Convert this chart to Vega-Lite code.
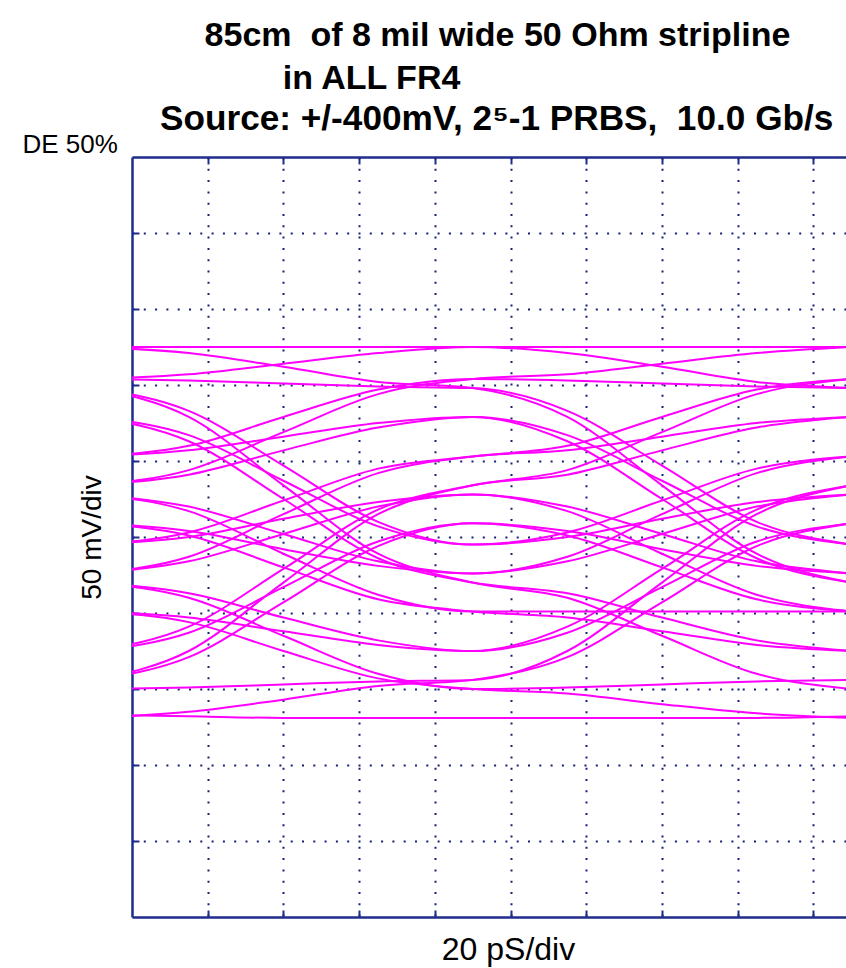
{
  "$schema": "https://vega.github.io/schema/vega-lite/v6.json",
  "width": 714,
  "height": 760,
  "autosize": {"type": "none"},
  "padding": {"left": 132, "top": 157, "right": 0, "bottom": 51},
  "background": "white",
  "config": {"view": {"stroke": null}, "font": "Liberation Sans"},
  "title": {
    "text": ["\u200b\u00a0\u00a0\u00a0\u00a0\u200985cm\u00a0 of 8 mil wide 50 Ohm stripline", "\u200b\u00a0\u00a0\u00a0\u00a0\u00a0\u00a0\u00a0\u00a0\u00a0\u00a0\u00a0\u00a0\u00a0in ALL FR4"],
    "subtitle": "Source: +/-400mV, 2\u2075-1 PRBS,\u00a0 10.0 Gb/s",
    "anchor": "start",
    "frame": "group",
    "dx": 28,
    "offset": -6,
    "font": "Liberation Sans",
    "fontSize": 34,
    "fontWeight": "bold",
    "color": "#000000",
    "lineHeight": 43,
    "subtitleFont": "Liberation Sans",
    "subtitleFontSize": 35.2,
    "subtitleFontWeight": "bold",
    "subtitleColor": "#000000",
    "subtitlePadding": 6
  },
  "data": {"values": [
    {"k":0,"t":-10,"v":-49},{"k":0,"t":15,"v":-56},{"k":0,"t":40,"v":-75},{"k":0,"t":65,"v":-93},{"k":0,"t":90,"v":-100},{"k":0,"t":115,"v":-103},{"k":0,"t":140,"v":-110},{"k":0,"t":165,"v":-116},{"k":0,"t":190,"v":-119},
    {"k":1,"t":-10,"v":-117},{"k":1,"t":15,"v":-118},{"k":1,"t":40,"v":-119},{"k":1,"t":65,"v":-119},{"k":1,"t":90,"v":-119},{"k":1,"t":115,"v":-119},{"k":1,"t":140,"v":-119},{"k":1,"t":165,"v":-119},{"k":1,"t":190,"v":-118},
    {"k":2,"t":-10,"v":-119},{"k":2,"t":15,"v":-115},{"k":2,"t":40,"v":-107},{"k":2,"t":65,"v":-98},{"k":2,"t":90,"v":-94},{"k":2,"t":115,"v":-79},{"k":2,"t":140,"v":-43},{"k":2,"t":165,"v":-6},{"k":2,"t":190,"v":9},
    {"k":3,"t":-10,"v":-94},{"k":3,"t":15,"v":-79},{"k":3,"t":40,"v":-43},{"k":3,"t":65,"v":-6},{"k":3,"t":90,"v":9},{"k":3,"t":115,"v":1},{"k":3,"t":140,"v":-20},{"k":3,"t":165,"v":-41},{"k":3,"t":190,"v":-49},
    {"k":4,"t":-10,"v":9},{"k":4,"t":15,"v":1},{"k":4,"t":40,"v":-20},{"k":4,"t":65,"v":-41},{"k":4,"t":90,"v":-49},{"k":4,"t":115,"v":-53},{"k":4,"t":140,"v":-62},{"k":4,"t":165,"v":-71},{"k":4,"t":190,"v":-75},
    {"k":5,"t":-10,"v":-49},{"k":5,"t":15,"v":-53},{"k":5,"t":40,"v":-62},{"k":5,"t":65,"v":-71},{"k":5,"t":90,"v":-75},{"k":5,"t":115,"v":-63},{"k":5,"t":140,"v":-33},{"k":5,"t":165,"v":-3},{"k":5,"t":190,"v":9},
    {"k":6,"t":-10,"v":-75},{"k":6,"t":15,"v":-63},{"k":6,"t":40,"v":-33},{"k":6,"t":65,"v":-3},{"k":6,"t":90,"v":9},{"k":6,"t":115,"v":4},{"k":6,"t":140,"v":-8},{"k":6,"t":165,"v":-19},{"k":6,"t":190,"v":-24},
    {"k":7,"t":-10,"v":9},{"k":7,"t":15,"v":4},{"k":7,"t":40,"v":-8},{"k":7,"t":65,"v":-19},{"k":7,"t":90,"v":-24},{"k":7,"t":115,"v":-13},{"k":7,"t":140,"v":15},{"k":7,"t":165,"v":42},{"k":7,"t":190,"v":53},
    {"k":8,"t":-10,"v":-24},{"k":8,"t":15,"v":-13},{"k":8,"t":40,"v":15},{"k":8,"t":65,"v":42},{"k":8,"t":90,"v":53},{"k":8,"t":115,"v":57},{"k":8,"t":140,"v":66},{"k":8,"t":165,"v":75},{"k":8,"t":190,"v":79},
    {"k":9,"t":-10,"v":53},{"k":9,"t":15,"v":57},{"k":9,"t":40,"v":66},{"k":9,"t":65,"v":75},{"k":9,"t":90,"v":79},{"k":9,"t":115,"v":63},{"k":9,"t":140,"v":25},{"k":9,"t":165,"v":-14},{"k":9,"t":190,"v":-30},
    {"k":10,"t":-10,"v":79},{"k":10,"t":15,"v":63},{"k":10,"t":40,"v":25},{"k":10,"t":65,"v":-14},{"k":10,"t":90,"v":-30},{"k":10,"t":115,"v":-37},{"k":10,"t":140,"v":-53},{"k":10,"t":165,"v":-68},{"k":10,"t":190,"v":-75},
    {"k":11,"t":-10,"v":-30},{"k":11,"t":15,"v":-37},{"k":11,"t":40,"v":-53},{"k":11,"t":65,"v":-68},{"k":11,"t":90,"v":-75},{"k":11,"t":115,"v":-59},{"k":11,"t":140,"v":-21},{"k":11,"t":165,"v":18},{"k":11,"t":190,"v":34},
    {"k":12,"t":-10,"v":-75},{"k":12,"t":15,"v":-59},{"k":12,"t":40,"v":-21},{"k":12,"t":65,"v":18},{"k":12,"t":90,"v":34},{"k":12,"t":115,"v":44},{"k":12,"t":140,"v":69},{"k":12,"t":165,"v":94},{"k":12,"t":190,"v":104},
    {"k":13,"t":-10,"v":34},{"k":13,"t":15,"v":44},{"k":13,"t":40,"v":69},{"k":13,"t":65,"v":94},{"k":13,"t":90,"v":104},{"k":13,"t":115,"v":107},{"k":13,"t":140,"v":114},{"k":13,"t":165,"v":121},{"k":13,"t":190,"v":125},
    {"k":14,"t":-10,"v":104},{"k":14,"t":15,"v":107},{"k":14,"t":40,"v":114},{"k":14,"t":65,"v":121},{"k":14,"t":90,"v":125},{"k":14,"t":115,"v":125},{"k":14,"t":140,"v":125},{"k":14,"t":165,"v":125},{"k":14,"t":190,"v":125},
    {"k":15,"t":-10,"v":125},{"k":15,"t":15,"v":125},{"k":15,"t":40,"v":125},{"k":15,"t":65,"v":125},{"k":15,"t":90,"v":125},{"k":15,"t":115,"v":121},{"k":15,"t":140,"v":112},{"k":15,"t":165,"v":102},{"k":15,"t":190,"v":98},
    {"k":16,"t":-10,"v":125},{"k":16,"t":15,"v":121},{"k":16,"t":40,"v":112},{"k":16,"t":65,"v":102},{"k":16,"t":90,"v":98},{"k":16,"t":115,"v":79},{"k":16,"t":140,"v":34},{"k":16,"t":165,"v":-11},{"k":16,"t":190,"v":-30},
    {"k":17,"t":-10,"v":98},{"k":17,"t":15,"v":79},{"k":17,"t":40,"v":34},{"k":17,"t":65,"v":-11},{"k":17,"t":90,"v":-30},{"k":17,"t":115,"v":-40},{"k":17,"t":140,"v":-65},{"k":17,"t":165,"v":-90},{"k":17,"t":190,"v":-100},
    {"k":18,"t":-10,"v":-30},{"k":18,"t":15,"v":-40},{"k":18,"t":40,"v":-65},{"k":18,"t":65,"v":-90},{"k":18,"t":90,"v":-100},{"k":18,"t":115,"v":-99},{"k":18,"t":140,"v":-97},{"k":18,"t":165,"v":-95},{"k":18,"t":190,"v":-94},
    {"k":19,"t":-10,"v":-100},{"k":19,"t":15,"v":-99},{"k":19,"t":40,"v":-97},{"k":19,"t":65,"v":-95},{"k":19,"t":90,"v":-94},{"k":19,"t":115,"v":-75},{"k":19,"t":140,"v":-30},{"k":19,"t":165,"v":15},{"k":19,"t":190,"v":34},
    {"k":20,"t":-10,"v":-94},{"k":20,"t":15,"v":-75},{"k":20,"t":40,"v":-30},{"k":20,"t":65,"v":15},{"k":20,"t":90,"v":34},{"k":20,"t":115,"v":41},{"k":20,"t":140,"v":57},{"k":20,"t":165,"v":72},{"k":20,"t":190,"v":79},
    {"k":21,"t":-10,"v":34},{"k":21,"t":15,"v":41},{"k":21,"t":40,"v":57},{"k":21,"t":65,"v":72},{"k":21,"t":90,"v":79},{"k":21,"t":115,"v":67},{"k":21,"t":140,"v":37},{"k":21,"t":165,"v":7},{"k":21,"t":190,"v":-5},
    {"k":22,"t":-10,"v":79},{"k":22,"t":15,"v":67},{"k":22,"t":40,"v":37},{"k":22,"t":65,"v":7},{"k":22,"t":90,"v":-5},{"k":22,"t":115,"v":3},{"k":22,"t":140,"v":24},{"k":22,"t":165,"v":45},{"k":22,"t":190,"v":53},
    {"k":23,"t":-10,"v":-5},{"k":23,"t":15,"v":3},{"k":23,"t":40,"v":24},{"k":23,"t":65,"v":45},{"k":23,"t":90,"v":53},{"k":23,"t":115,"v":60},{"k":23,"t":140,"v":79},{"k":23,"t":165,"v":97},{"k":23,"t":190,"v":104},
    {"k":24,"t":-10,"v":53},{"k":24,"t":15,"v":60},{"k":24,"t":40,"v":79},{"k":24,"t":65,"v":97},{"k":24,"t":90,"v":104},{"k":24,"t":115,"v":103},{"k":24,"t":140,"v":101},{"k":24,"t":165,"v":99},{"k":24,"t":190,"v":98},
    {"k":25,"t":-10,"v":104},{"k":25,"t":15,"v":103},{"k":25,"t":40,"v":101},{"k":25,"t":65,"v":99},{"k":25,"t":90,"v":98},{"k":25,"t":115,"v":83},{"k":25,"t":140,"v":47},{"k":25,"t":165,"v":10},{"k":25,"t":190,"v":-5},
    {"k":26,"t":-10,"v":98},{"k":26,"t":15,"v":83},{"k":26,"t":40,"v":47},{"k":26,"t":65,"v":10},{"k":26,"t":90,"v":-5},{"k":26,"t":115,"v":0},{"k":26,"t":140,"v":12},{"k":26,"t":165,"v":23},{"k":26,"t":190,"v":28},
    {"k":27,"t":-10,"v":-5},{"k":27,"t":15,"v":0},{"k":27,"t":40,"v":12},{"k":27,"t":65,"v":23},{"k":27,"t":90,"v":28},{"k":27,"t":115,"v":20},{"k":27,"t":140,"v":2},{"k":27,"t":165,"v":-16},{"k":27,"t":190,"v":-24},
    {"k":28,"t":-10,"v":28},{"k":28,"t":15,"v":20},{"k":28,"t":40,"v":2},{"k":28,"t":65,"v":-16},{"k":28,"t":90,"v":-24},{"k":28,"t":115,"v":-16},{"k":28,"t":140,"v":2},{"k":28,"t":165,"v":20},{"k":28,"t":190,"v":28},
    {"k":29,"t":-10,"v":-24},{"k":29,"t":15,"v":-16},{"k":29,"t":40,"v":2},{"k":29,"t":65,"v":20},{"k":29,"t":90,"v":28},{"k":29,"t":115,"v":17},{"k":29,"t":140,"v":-11},{"k":29,"t":165,"v":-38},{"k":29,"t":190,"v":-49},
    {"k":30,"t":-10,"v":28},{"k":30,"t":15,"v":17},{"k":30,"t":40,"v":-11},{"k":30,"t":65,"v":-38},{"k":30,"t":90,"v":-49},{"k":30,"t":115,"v":-49},{"k":30,"t":140,"v":-49},{"k":30,"t":165,"v":-49},{"k":30,"t":190,"v":-49}
  ]},
  "layer": [
    {
      "mark": {"type": "line", "interpolate": "monotone", "clip": true, "strokeWidth": 2, "color": "#ff00ff"},
      "encoding": {
        "x": {
          "field": "t", "type": "quantitative",
          "scale": {"domain": [0, 188.6], "nice": false, "zero": false},
          "axis": {
            "orient": "bottom",
            "values": [20, 40, 60, 80, 100, 120, 140, 160, 180],
            "labels": false,
            "ticks": true, "tickSize": -7, "tickWidth": 2, "tickColor": "#1f2c8c",
            "domain": true, "domainWidth": 2.5, "domainColor": "#1f2c8c",
            "grid": true, "gridColor": "#14207a", "gridDash": [2, 9.3], "gridWidth": 2, "gridOpacity": 1,
            "title": "20 pS/div",
            "titleFont": "Liberation Sans", "titleFontSize": 32, "titleFontWeight": "normal", "titleColor": "#000000",
            "titleX": 376, "titleY": 42, "titleAlign": "center", "titleBaseline": "alphabetic"
          }
        },
        "y": {
          "field": "v", "type": "quantitative",
          "scale": {"domain": [-250, 250], "nice": false, "zero": false},
          "axis": {
            "orient": "left",
            "values": [-200, -150, -100, -50, 0, 50, 100, 150, 200],
            "labels": false,
            "ticks": true, "tickSize": -7, "tickWidth": 2, "tickColor": "#1f2c8c",
            "domain": true, "domainWidth": 2.5, "domainColor": "#1f2c8c",
            "grid": true, "gridColor": "#14207a", "gridDash": [2, 9.3], "gridWidth": 2, "gridOpacity": 1,
            "title": "50 mV/div",
            "titleFont": "Liberation Sans", "titleFontSize": 28, "titleFontWeight": "normal", "titleColor": "#000000",
            "titleAngle": 270, "titleX": -32, "titleY": 380, "titleAlign": "center", "titleBaseline": "alphabetic"
          }
        },
        "detail": {"field": "k", "type": "nominal"}
      }
    },
    {
      "mark": {"type": "line", "opacity": 0, "clip": true},
      "encoding": {
        "x": {
          "field": "t", "type": "quantitative",
          "axis": {
            "orient": "top",
            "values": [20, 40, 60, 80, 100, 120, 140, 160, 180],
            "labels": false,
            "ticks": true, "tickSize": -7, "tickWidth": 2, "tickColor": "#1f2c8c",
            "domain": true, "domainWidth": 2.5, "domainColor": "#1f2c8c",
            "grid": false,
            "title": "DE 50%",
            "titleFont": "Liberation Sans", "titleFontSize": 26, "titleFontWeight": "normal", "titleColor": "#000000",
            "titleX": -110, "titleY": -5, "titleAlign": "left", "titleBaseline": "alphabetic"
          }
        },
        "y": {"field": "v", "type": "quantitative", "axis": null},
        "detail": {"field": "k", "type": "nominal"}
      }
    }
  ],
  "resolve": {"axis": {"x": "independent", "y": "independent"}}
}
